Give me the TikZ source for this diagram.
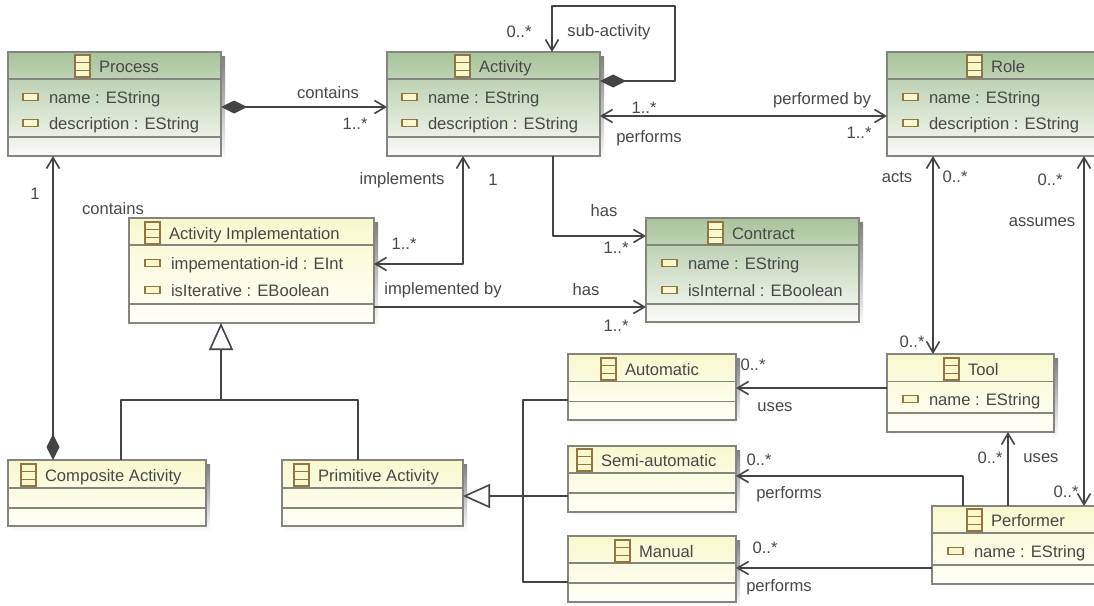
\documentclass[tikz,border=0pt]{standalone}
\usepackage{fontspec}
\setmainfont{Liberation Sans}
\usetikzlibrary{arrows.meta}
\definecolor{txt}{HTML}{484848}
\definecolor{wire}{HTML}{444444}
\definecolor{edge}{HTML}{858580}
\definecolor{shade}{HTML}{DDDDE1}
\definecolor{grtop}{HTML}{A8C49B}
\definecolor{grbot}{HTML}{FAFBF8}
\definecolor{yetop}{HTML}{F8F8CE}
\definecolor{yebot}{HTML}{FFFFF8}
\definecolor{icedge}{HTML}{927540}
\definecolor{icfill}{HTML}{F9F7CC}
\newcount\lblc
\tikzset{
  x=1pt,y=-1pt,
  greenbox/.style={top color=grtop,bottom color=grbot},
  yellowbox/.style={top color=yetop,bottom color=yebot},
  boxnode/.style={draw=edge,line width=1.5pt,inner sep=0pt,outer sep=0pt},
  divider/.style={draw=edge,line width=1.3pt},
  attr/.style={text=txt,font=\fontsize{16.6}{16.6}\selectfont,anchor=base west,inner sep=0pt,outer sep=0pt},
  lbl/.style={text=txt,font=\fontsize{16.6}{16.6}\selectfont,anchor=center,inner sep=0pt,outer sep=0pt},
  wired/.style={draw=wire,line width=1.7pt,line join=round},
  thinwire/.style={draw=wire,line width=1.4pt,line join=round},
  openhead/.tip={Straight Barb[length=11pt,width=13pt,line width=1.6pt]},
  solidhead/.tip={Diamond[length=26pt,width=13pt,fill=wire]},
  hollowhead/.tip={Triangle[open,length=27pt,width=24pt,fill=white,line width=1.6pt]},
}
% name x0 y0 x1 y1 d1 d2 style
\newcommand\umlbox[8]{%
  \pgfmathsetmacro\cx{(#2+#4)/2}\pgfmathsetmacro\cy{(#3+#5)/2}%
  \pgfmathsetmacro\ww{#4-#2}\pgfmathsetmacro\hh{#5-#3}%
  \fill[shade] (#2+3,#3+4) rectangle (#4+4,#5+5);
  \node[boxnode,#8,minimum width=\ww pt,minimum height=\hh pt] (#1) at (\cx,\cy) {};
  \draw[divider] (#1.west |- 0,#6) -- (#1.east |- 0,#6);
  \draw[divider] (#1.west |- 0,#7) -- (#1.east |- 0,#7);
}
% class icon + title: name iconx y title
\newcommand\umltitle[4]{%
  \begin{scope}[shift={(#2,#3)}]
    \draw[draw=icedge,fill=icfill,line width=1.5pt] (0,-11) rectangle (15,11);
    \draw[draw=icedge,line width=.8pt] (0,-4) -- (15,-4) (0,4) -- (15,4);
  \end{scope}
  \node[attr] (#1-title) at (#2+24,#3+6) {#4};
}
% attribute: name iconx y text
\newcommand\umlattr[4]{%
  \begin{scope}[shift={(#2,#3)}]
    \draw[draw=icedge,fill=icfill,line width=1.7pt] (0,-3.5) rectangle (15,3.5);
  \end{scope}
  \node[attr] (#1) at (#2+26,#3+6) {#4};
}
\newcommand\lbl[3]{\global\advance\lblc by 1 \node[lbl] (lbl\the\lblc) at (#1,#2) {#3};}
\begin{document}
\begin{tikzpicture}
\clip (0,0) rectangle (1094,605);
\fill[white] (0,0) rectangle (1094,605);

\umlbox{process}{8}{52}{221}{156}{79}{137}{greenbox}
\umlbox{activity}{387}{52}{600}{156}{79}{137}{greenbox}
\umlbox{role}{887}{52}{1100}{156}{79}{137}{greenbox}
\umlbox{contract}{646}{218}{859}{322}{245}{304}{greenbox}
\umlbox{impl}{129}{218}{374}{323}{245}{304}{yellowbox}
\umlbox{composite}{8}{460}{206}{526}{488}{508}{yellowbox}
\umlbox{primitive}{282}{460}{463}{526}{488}{508}{yellowbox}
\umlbox{automatic}{568}{354}{736}{420}{381.5}{401.5}{yellowbox}
\umlbox{semi}{568}{446}{736}{512}{473}{493}{yellowbox}
\umlbox{manual}{568}{536}{736}{602}{563}{583}{yellowbox}
\umlbox{tool}{887}{354}{1054}{432}{381.5}{413}{yellowbox}
\umlbox{performer}{932}{506}{1100}{584}{533}{565}{yellowbox}

\umltitle{process}{75}{66}{Process}
\umlattr{process-a1}{23}{97}{name : EString}
\umlattr{process-a2}{23}{123}{description : EString}
\umltitle{activity}{455}{66}{Activity}
\umlattr{activity-a1}{402}{97}{name : EString}
\umlattr{activity-a2}{402}{123}{description : EString}
\umltitle{role}{967}{66}{Role}
\umlattr{role-a1}{903}{97}{name : EString}
\umlattr{role-a2}{903}{123}{description : EString}
\umltitle{contract}{708}{233}{Contract}
\umlattr{contract-a1}{662}{263}{name : EString}
\umlattr{contract-a2}{662}{290}{isInternal : EBoolean}
\umltitle{impl}{145}{233}{Activity Implementation}
\umlattr{impl-a1}{145}{263}{impementation-id : EInt}
\umlattr{impl-a2}{145}{290}{isIterative : EBoolean}
\umltitle{composite}{21}{475}{Composite Activity}
\umltitle{primitive}{294}{475}{Primitive Activity}
\umltitle{automatic}{601}{369}{Automatic}
\umltitle{semi}{577}{460}{Semi-automatic}
\umltitle{manual}{615}{551}{Manual}
\umltitle{tool}{944}{369}{Tool}
\umlattr{tool-a1}{903}{399}{name : EString}
\umltitle{performer}{967}{520}{Performer}
\umlattr{performer-a1}{948}{551}{name : EString}

% associations
\draw[wired,solidhead-openhead] (process.east |- 0,107) -- (activity.west |- 0,107);
\draw[wired,solidhead-openhead] (activity.east |- 0,81) -- (675,81) -- (675,6) -- (552,6) -- (552,0 |- activity.north);
\draw[wired,openhead-openhead] (activity.east |- 0,116) -- (role.west |- 0,116);
\draw[wired,openhead-openhead] (impl.east |- 0,264) -- (463,264) -- (463,0 |- activity.south);
\draw[wired,-openhead] (553,0 |- activity.south) -- (553,236) -- (contract.west |- 0,236);
\draw[wired,-openhead] (impl.east |- 0,307) -- (contract.west |- 0,307);
\draw[wired,openhead-solidhead] (53,0 |- process.south) -- (53,0 |- composite.north);
\draw[wired,openhead-openhead] (933,0 |- role.south) -- (933,0 |- tool.north);
\draw[wired,openhead-openhead] (1084,0 |- role.south) -- (1084,0 |- performer.north);
\draw[wired,-openhead] (tool.west |- 0,388) -- (automatic.east |- 0,388);
\draw[wired,-openhead] (963,0 |- performer.north) -- (963,476) -- (semi.east |- 0,476);
\draw[thinwire,-openhead] (1008,0 |- performer.north) -- (1008,0 |- tool.south);
\draw[wired,-openhead] (performer.west |- 0,568) -- (manual.east |- 0,568);

% generalisations
\coordinate (gen1) at (221,400);
\coordinate (gen2) at (523,496);
\draw[wired,-hollowhead] (gen1) -- (221,0 |- impl.south);
\draw[thinwire] (121,0 |- composite.north) -- (121,400) -- (358,400) -- (358,0 |- primitive.north);
\draw[wired,-hollowhead] (gen2) -- (primitive.east |- 0,496);
\draw[thinwire] (automatic.west |- 0,400) -- (523,400) -- (523,582) -- (manual.west |- 0,582);
\draw[wired] (gen2) -- (semi.west |- 0,496);

% labels
\lbl{328}{93}{contains}
\lbl{355}{124}{1..*}
\lbl{519}{32}{0..*}
\lbl{609}{32}{sub-activity}
\lbl{644}{108}{1..*}
\lbl{649}{138}{performs}
\lbl{822}{100}{performed by}
\lbl{859}{133}{1..*}
\lbl{402}{180}{implements}
\lbl{493}{180}{1}
\lbl{404}{244}{1..*}
\lbl{604}{211}{has}
\lbl{616}{248}{1..*}
\lbl{443}{290}{implemented by}
\lbl{586}{290}{has}
\lbl{616}{326}{1..*}
\lbl{35}{194}{1}
\lbl{113}{209}{contains}
\lbl{897}{177}{acts}
\lbl{955}{177}{0..*}
\lbl{1050}{180}{0..*}
\lbl{1042}{222}{assumes}
\lbl{912}{342}{0..*}
\lbl{753}{365}{0..*}
\lbl{775}{407}{uses}
\lbl{759}{460}{0..*}
\lbl{789}{494}{performs}
\lbl{990}{458}{0..*}
\lbl{1041}{458}{uses}
\lbl{1066}{492}{0..*}
\lbl{765}{548}{0..*}
\lbl{779}{587}{performs}
\end{tikzpicture}
\end{document}
